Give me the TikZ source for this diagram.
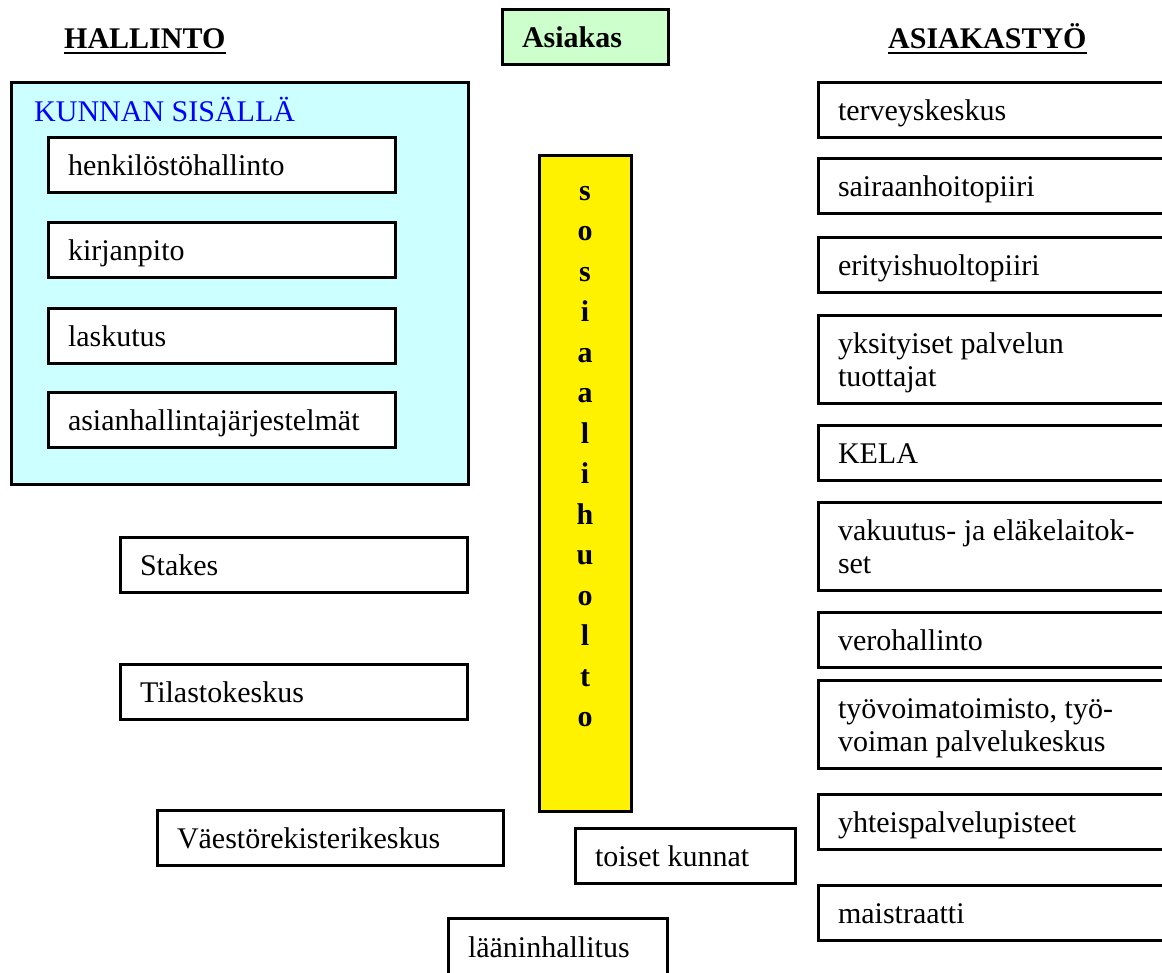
\documentclass[tikz,border=0pt]{standalone}
\usepackage{fontspec}
\setmainfont{Liberation Serif}
\usetikzlibrary{calc}
\definecolor{syaani}{RGB}{204,255,255}
\definecolor{vihrea}{RGB}{204,255,204}
\definecolor{sininen}{RGB}{0,0,255}

\begin{document}
\begin{tikzpicture}[x=1pt, y=-1pt,
  laatikko/.style={draw, line width=3pt, fill=white, anchor=north west, outer sep=0pt,
    inner xsep=20pt, inner ysep=0pt, align=flush left, font=\fontsize{30}{33}\selectfont,
    minimum height=55pt, text height=24pt, text depth=3pt},
  vasen/.style={laatikko, minimum width=347pt, text width=307pt},
  oikea/.style={laatikko, minimum width=360pt, text width=320pt},
  kaksirivi/.style={minimum height=88pt, text depth=36pt},
  otsikko/.style={anchor=base west, inner sep=0pt, font=\fontsize{30}{33}\selectfont\bfseries},
  alleviivaus/.style={line width=2.5pt}]
\useasboundingbox (0,0) rectangle (1162,972);

% otsikot
\node[otsikko] (hallinto) at (64,48) {HALLINTO};
\node[otsikko] (asiakastyo) at (888,48) {ASIAKASTYÖ};
\draw[alleviivaus] ([yshift=-5pt]hallinto.base west) -- ([yshift=-5pt]hallinto.base east);
\draw[alleviivaus] ([yshift=-5pt]asiakastyo.base west) -- ([yshift=-5pt]asiakastyo.base east);
\node[laatikko, fill=vihrea, minimum width=166pt, text width=126pt, font=\fontsize{30}{33}\selectfont\bfseries] (asiakas) at (502,9) {Asiakas};

% kunnan sisällä
\node[draw, line width=3pt, fill=syaani, anchor=north west, outer sep=0pt, minimum width=457pt, minimum height=402pt] (kunta) at (11,82) {};
\node[anchor=base west, inner sep=0pt, text=sininen, font=\fontsize{30}{33}\selectfont] (kunnanotsikko) at (34,121) {KUNNAN SISÄLLÄ};
\foreach \nimi/\y/\teksti in {henk/137/henkilöstöhallinto, kirj/222/kirjanpito, lask/308/laskutus, asian/392/asianhallintajärjestelmät}
  \node[vasen] (\nimi) at (48,\y) {\teksti};

% muu hallinto
\node[vasen] (stakes) at (120,537) {Stakes};
\node[vasen] (tilasto) at (120,664) {Tilastokeskus};
\node[vasen, minimum width=346pt, text width=306pt] (vaesto) at (157,810) {Väestörekisterikeskus};
\node[laatikko, minimum width=220pt, text width=180pt] (toiset) at (575,828) {toiset kunnat};
\node[laatikko, minimum width=219pt, text width=179pt, minimum height=58pt] (laani) at (448,918) {lääninhallitus};

% sosiaalihuolto
\node[draw, line width=3pt, fill=yellow, anchor=north west, outer sep=0pt, inner sep=0pt, minimum width=92pt, minimum height=656pt] (sos) at (539,155) {};
\node[anchor=north, inner sep=0pt, align=center, font=\fontsize{30}{40.5}\selectfont\bfseries] (sosteksti) at ($(sos.north)+(0,31)$) {s\\o\\s\\i\\a\\a\\l\\i\\h\\u\\o\\l\\t\\o};

% asiakastyö
\foreach \nimi/\y/\teksti in {terv/82/terveyskeskus, sair/158/sairaanhoitopiiri, erit/237/erityishuoltopiiri, kela/425/KELA, vero/612/verohallinto, yhteis/794/yhteispalvelupisteet, maist/885/maistraatti}
  \node[oikea] (\nimi) at (818,\y) {\teksti};
\node[oikea, kaksirivi] (yksit) at (818,315) {yksityiset palvelun\\tuottajat};
\node[oikea, kaksirivi] (vakuut) at (818,502) {vakuutus- ja eläkelaitok-\\set};
\node[oikea, kaksirivi] (tyov) at (818,680) {työvoimatoimisto, työ-\\voiman palvelukeskus};
\end{tikzpicture}
\end{document}
